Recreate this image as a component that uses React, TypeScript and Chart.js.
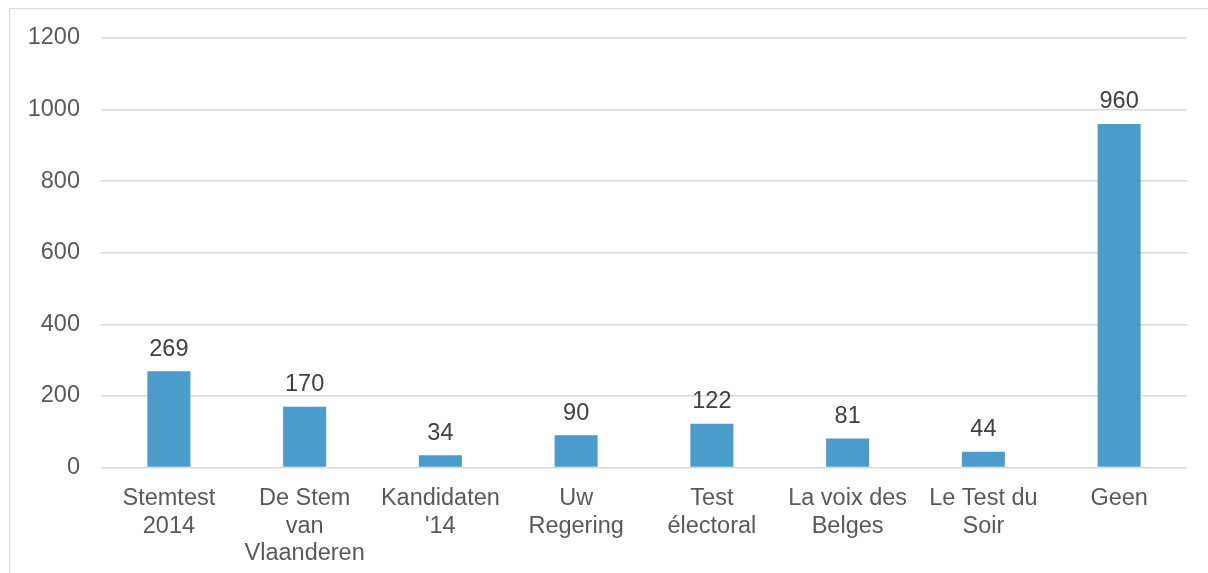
import React, { useEffect, useRef } from "react";
import { Chart, registerables } from "chart.js";

Chart.register(...registerables);

const categories: string[][] = [
  ["Stemtest", "2014"],
  ["De Stem", "van", "Vlaanderen"],
  ["Kandidaten", "'14"],
  ["Uw", "Regering"],
  ["Test", "électoral"],
  ["La voix des", "Belges"],
  ["Le Test du", "Soir"],
  ["Geen"],
];
const values: number[] = [269, 170, 34, 90, 122, 81, 44, 960];
const yTicks: number[] = [0, 200, 400, 600, 800, 1000, 1200];

const FONT = "'Liberation Sans', Arial, sans-serif";

const dataLabelPlugin = {
  id: "dataLabels",
  afterDatasetsDraw(chart: any) {
    const ctx = chart.ctx;
    const meta = chart.getDatasetMeta(0);
    ctx.save();
    ctx.font = `23.5px ${FONT}`;
    ctx.fillStyle = "#404040";
    ctx.textAlign = "center";
    ctx.textBaseline = "alphabetic";
    meta.data.forEach((bar: any, i: number) => {
      ctx.fillText(String(values[i]), bar.x, bar.y - 15.5);
    });
    ctx.restore();
  },
};

export default function App() {
  const ref = useRef<HTMLCanvasElement>(null);
  useEffect(() => {
    if (!ref.current) return;
    const chart = new Chart(ref.current, {
      type: "bar",
      data: {
        labels: categories,
        datasets: [
          {
            data: values,
            backgroundColor: "#4A9CCB",
            barPercentage: 0.317,
            categoryPercentage: 1,
          },
        ],
      },
      options: {
        responsive: false,
        animation: false,
        layout: { padding: { left: 0, right: 21, top: 38, bottom: 0 } },
        plugins: {
          legend: { display: false },
          tooltip: { enabled: false },
        },
        scales: {
          x: {
            grid: { display: false },
            border: { display: false },
            ticks: {
              autoSkip: false,
              maxRotation: 0,
              minRotation: 0,
              padding: 9.5,
              color: "#595959",
              font: { family: FONT, size: 23.5, lineHeight: 1.17 },
            },
            afterFit: (scale: any) => {
              scale.height = 105.5;
            },
          },
          y: {
            min: 0,
            max: 1200,
            afterBuildTicks: (scale: any) => {
              scale.ticks = yTicks.map((v) => ({ value: v }));
            },
            grid: { color: "#d9d9d9", lineWidth: 1.5, drawTicks: false },
            border: { display: false },
            ticks: {
              padding: 21,
              color: "#595959",
              font: { family: FONT, size: 23.5 },
              callback: (v: any) => String(v),
            },
            afterFit: (scale: any) => {
              scale.width = 101;
            },
          },
        },
      },
      plugins: [dataLabelPlugin],
    });
    return () => chart.destroy();
  }, []);

  return (
    <div
      style={{
        position: "absolute",
        left: 0,
        top: 0,
        width: 1208,
        height: 573,
        overflow: "hidden",
        background: "#ffffff",
      }}
    >
      <div
        style={{
          position: "absolute",
          left: 9,
          top: 8,
          width: 1199,
          height: 565,
          boxSizing: "border-box",
          borderTop: "1.5px solid #d9d9d9",
          borderLeft: "1.5px solid #d9d9d9",
        }}
      />
      <canvas
        ref={ref}
        width={1208}
        height={573}
        style={{ position: "absolute", left: 0, top: 0, width: 1208, height: 573 }}
      />
    </div>
  );
}
